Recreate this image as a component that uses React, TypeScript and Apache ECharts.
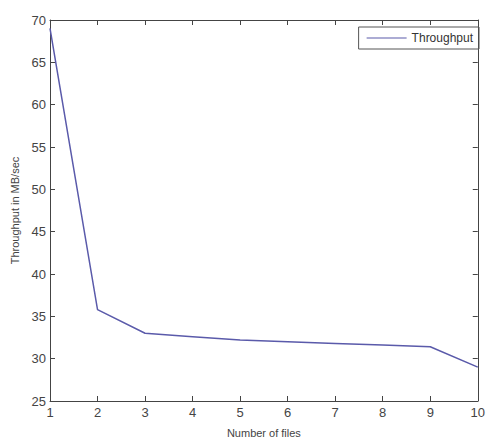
import React, { useEffect, useRef } from "react";
import * as echarts from "echarts";

const files = [1, 2, 3, 4, 5, 6, 7, 8, 9, 10];
const throughput = [69, 35.8, 33.0, 32.6, 32.2, 32.0, 31.8, 31.6, 31.4, 29.0];
const seriesName = "Throughput";

export default function App() {
  const ref = useRef<HTMLDivElement>(null);
  useEffect(() => {
    if (!ref.current) return;
    document.body.style.margin = "0";
    document.body.style.overflow = "hidden";
    const chart = echarts.init(ref.current, undefined, { renderer: "svg" });
    const font = "Liberation Sans";
    const axisLine = { show: true, lineStyle: { color: "#444", width: 1 } };
    chart.setOption({
      animation: false,
      backgroundColor: "#fff",
      textStyle: { fontFamily: font },
      grid: { left: 50, right: 5, top: 20, bottom: 38 },
      legend: {
        right: 9,
        top: 27,
        data: [seriesName],
        borderColor: "#555",
        borderWidth: 1,
        borderRadius: 0,
        padding: [5, 6, 5, 8],
        itemWidth: 40,
        itemHeight: 10,
        itemGap: 2,
        icon: "path://M0,5 L40,5 L40,6 L0,6 Z",
        textStyle: { fontFamily: font, fontSize: 12, color: "#333" },
      },
      xAxis: [
        {
          type: "value",
          min: 1,
          max: 10,
          interval: 1,
          name: "Number of files",
          nameLocation: "middle",
          nameGap: 26,
          nameTextStyle: { fontFamily: font, fontSize: 11, color: "#444" },
          axisLine,
          axisTick: { inside: true, length: 5, lineStyle: { color: "#444" } },
          axisLabel: { fontFamily: font, fontSize: 13, color: "#444", margin: 5 },
          splitLine: { show: false },
        },
        {
          type: "value",
          position: "top",
          min: 1,
          max: 10,
          interval: 1,
          axisLine,
          axisTick: { inside: true, length: 5, lineStyle: { color: "#444" } },
          axisLabel: { show: false },
          splitLine: { show: false },
        },
      ],
      yAxis: [
        {
          type: "value",
          min: 25,
          max: 70,
          interval: 5,
          name: "Throughput in MB/sec",
          nameLocation: "middle",
          nameGap: 30,
          nameTextStyle: { fontFamily: font, fontSize: 11, color: "#444" },
          axisLine,
          axisTick: { inside: true, length: 5, lineStyle: { color: "#444" } },
          axisLabel: { fontFamily: font, fontSize: 13, color: "#444", margin: 4 },
          splitLine: { show: false },
        },
        {
          type: "value",
          position: "right",
          min: 25,
          max: 70,
          interval: 5,
          axisLine,
          axisTick: { inside: true, length: 5, lineStyle: { color: "#444" } },
          axisLabel: { show: false },
          splitLine: { show: false },
        },
      ],
      series: [
        {
          name: seriesName,
          type: "line",
          data: files.map((f, i) => [f, throughput[i]]),
          showSymbol: false,
          symbol: "none",
          lineStyle: { color: "#5a5aaa", width: 1.5 },
          itemStyle: { color: "#5a5aaa" },
        },
      ],
    });
    return () => chart.dispose();
  }, []);
  return (
    <div
      ref={ref}
      style={{ position: "absolute", left: 0, top: 0, width: 488, height: 443 }}
    />
  );
}
